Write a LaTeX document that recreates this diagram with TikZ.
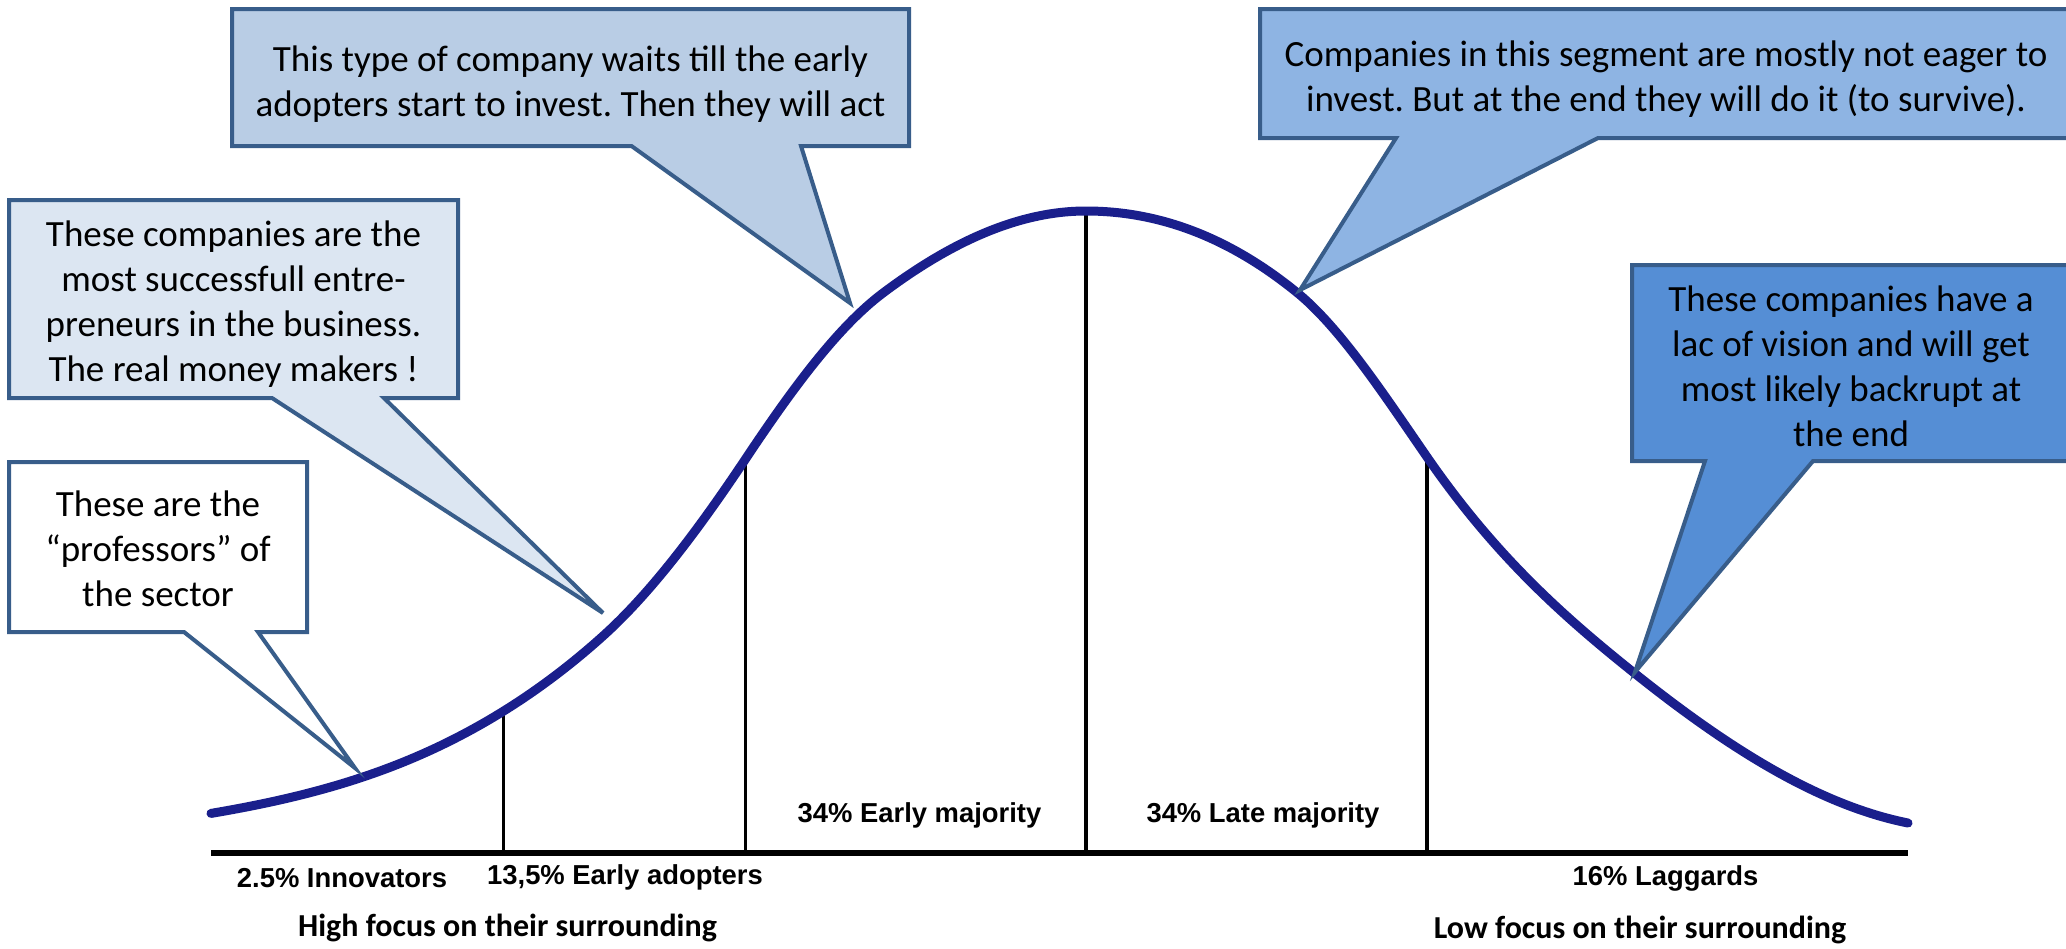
\documentclass[tikz,border=0pt]{standalone}
\usepackage{fontspec}
\setmainfont{Carlito}
\newfontfamily\arialfont{Liberation Sans}
\definecolor{brd}{HTML}{385D8A}
\definecolor{fillA}{HTML}{FFFFFF}
\definecolor{fillB}{HTML}{DCE6F2}
\definecolor{fillC}{HTML}{B9CDE5}
\definecolor{fillD}{HTML}{8EB4E3}
\definecolor{fillE}{HTML}{558ED5}
\definecolor{curvec}{HTML}{1A1F8C}
\frenchspacing
\begin{document}
\begin{tikzpicture}[x=0.5pt,y=-0.5pt,
  callout/.style={draw=brd, line width=2pt, line join=miter},
  ctext/.style={inner sep=0pt, align=center, font=\fontsize{18.5}{22.5}\selectfont},
  lab/.style={inner sep=0pt, font=\arialfont\bfseries\fontsize{13.7}{16}\selectfont},
  foot/.style={inner sep=0pt, font=\bfseries\fontsize{16}{19}\selectfont},
  vline/.style={line width=1.6pt, draw=black},
  axisline/.style={line width=2.8pt, draw=black},
  bell/.style={line width=4.5pt, draw=curvec, line cap=round, line join=round}
]
\useasboundingbox (0,0) rectangle (2066,948);
\clip (0,0) rectangle (2066,948);
\fill[white] (0,0) rectangle (2066,948);

% axis and vertical lines
\coordinate (b0) at (211,853);
\coordinate (b1) at (1908,853);
\coordinate (v1) at (503.5,707);
\coordinate (v2) at (745.5,455);
\coordinate (v3) at (1086,207);
\coordinate (v4) at (1427,453);
\draw[vline] (v1) -- (v1 |- b0);
\draw[vline] (v2) -- (v2 |- b0);
\draw[vline] (v3) -- (v3 |- b0);
\draw[vline] (v4) -- (v4 |- b0);
\draw[axisline] (b0) -- (b1);

% bell curve (C1-smooth cubic pieces)
\coordinate (p0) at (211,813.4);
\coordinate (p1) at (450,741);
\coordinate (p2) at (603,636);
\coordinate (p3) at (745.5,459);
\coordinate (p4) at (883,293);
\coordinate (p5) at (1086,211);
\coordinate (p6) at (1300,295);
\coordinate (p7) at (1427,457);
\coordinate (p8) at (1633,672);
\coordinate (p9) at (1908,823);
\draw[bell] (p0)
  .. controls (290.67,799.86) and (370.33,780.83) .. (p1)
  .. controls (501,715.5) and (552,681.9) .. (p2)
  .. controls (650.5,593.25) and (698,530.25) .. (p3)
  .. controls (791.33,390.25) and (837.17,327.37) .. (p4)
  .. controls (950.67,242.25) and (1018.33,211) .. (p5)
  .. controls (1157.33,211) and (1228.67,236) .. (p6)
  .. controls (1342.33,330.98) and (1384.67,395.62) .. (p7)
  .. controls (1495.67,556.57) and (1564.33,617.07) .. (p8)
  .. controls (1724.67,745.33) and (1816.33,804.67) .. (p9);

% callouts
\draw[callout, fill=fillA] (9,462) -- (307,462) -- (307,632) -- (258,632) -- (355,768) -- (184,632) -- (9,632) -- cycle;
\draw[callout, fill=fillB] (9,200) -- (458,200) -- (458,398) -- (384,398) -- (603,613) -- (272,398) -- (9,398) -- cycle;
\draw[callout, fill=fillC] (232,9) -- (909,9) -- (909,146) -- (801,146) -- (850,303) -- (631.5,146) -- (232,146) -- cycle;
\draw[callout, fill=fillD] (1260,9) -- (2080,9) -- (2080,138) -- (1598,138) -- (1300,290) -- (1396,138) -- (1260,138) -- cycle;
\draw[callout, fill=fillE] (1632,265) -- (2080,265) -- (2080,461) -- (1813,461) -- (1635,672) -- (1705,461) -- (1632,461) -- cycle;

% callout texts
\node[ctext] (tC) at (570.5,84) {This type of company waits till the early\\adopters start to invest. Then they will act};
\node[ctext] (tB) at (233.5,304) {These companies are the\\most successfull entre-\\preneurs in the business.\\The real money makers !};
\node[ctext] (tA) at (158,549) {These are the\\“professors” of\\the sector};
\node[ctext] (tD) at (1666,79) {Companies in this segment are mostly not eager to\\invest. But at the end they will do it (to survive).};
\node[ctext] (tE) at (1851,366) {These companies have a\\lac of vision and will get\\most likely backrupt at\\the end};

% labels
\node[lab] (l1) at (342,878) {2.5\% Innovators};
\node[lab] (l2) at (625,877) {13,5\% Early adopters};
\node[lab] (l3) at (919.5,815) {34\% Early majority};
\node[lab] (l4) at (1263,815) {34\% Late majority};
\node[lab] (l5) at (1665.6,878) {16\% Laggards};
\node[foot] (f1) at (507.5,928) {High focus on their surrounding};
\node[foot] (f2) at (1640,930) {Low focus on their surrounding};
\end{tikzpicture}
\end{document}
